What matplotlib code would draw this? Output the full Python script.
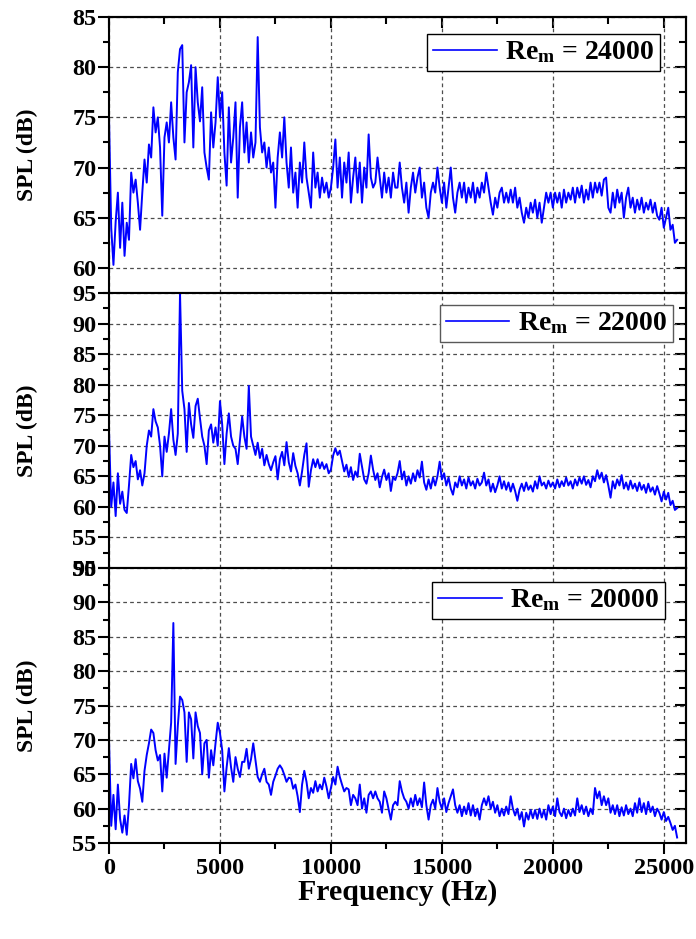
import numpy as np
import matplotlib
matplotlib.use("Agg")
import matplotlib.pyplot as plt
from matplotlib.ticker import MultipleLocator

plt.rcParams["font.family"] = ["Liberation Serif", "DejaVu Serif"]
plt.rcParams["font.weight"] = "bold"
plt.rcParams["mathtext.fontset"] = "custom"
plt.rcParams["mathtext.rm"] = "Liberation Serif:bold"
plt.rcParams["mathtext.it"] = "Liberation Serif:bold"
plt.rcParams["mathtext.bf"] = "Liberation Serif:bold"

# Frequency bins (Hz), 100 Hz resolution
freq_step = 100
n_bins = 257

# Sound pressure level spectra (dB), one value per 100 Hz bin
spl_24000 = [
    75.0, 64.0, 60.3, 64.6, 67.5, 62.0, 66.5, 61.2, 64.5, 62.8,
    69.5, 67.5, 68.8, 66.5, 63.8, 67.5, 70.8, 68.5, 72.3, 71.0,
    76.0, 73.5, 75.0, 72.0, 65.2, 73.0, 74.5, 72.5, 76.5, 73.0,
    70.8, 79.5, 81.8, 82.2, 72.5, 77.5, 78.5, 80.2, 72.0, 80.0,
    76.5, 74.6, 78.0, 71.5, 70.0, 68.8, 75.5, 72.0, 74.5, 79.0,
    75.0, 77.5, 71.5, 68.2, 76.0, 70.5, 73.0, 76.5, 67.0, 74.0,
    76.5, 71.5, 74.5, 70.5, 73.5, 71.0, 72.5, 83.0, 74.0, 71.5,
    72.5, 70.0, 72.0, 69.5, 70.5, 66.0, 71.0, 73.5, 71.0, 75.0,
    70.5, 68.0, 72.0, 67.5, 69.5, 66.0, 70.5, 68.5, 72.5, 69.0,
    67.5, 66.0, 71.5, 68.0, 69.5, 67.0, 69.0, 67.5, 68.5, 67.0,
    68.0, 70.0, 72.8, 68.0, 71.0, 67.0, 70.5, 68.5, 71.5, 66.5,
    69.0, 71.0, 67.5, 70.5, 66.5, 70.0, 68.0, 73.3, 69.0, 68.0,
    68.5, 71.0, 69.0, 67.0, 69.5, 67.5, 69.0, 67.0, 69.5, 68.0,
    68.0, 70.5, 68.0, 66.5, 68.5, 65.5, 68.0, 69.5, 67.5, 69.0,
    70.0, 67.0, 68.5, 66.0, 65.0, 67.5, 68.5, 67.5, 70.0, 68.0,
    66.5, 68.5, 66.0, 68.0, 70.0, 67.0, 65.5, 67.5, 68.5, 67.0,
    68.5, 66.5, 68.0, 67.0, 68.5, 66.5, 68.0, 67.0, 68.5, 67.5,
    69.5, 68.0, 66.5, 65.3, 67.0, 66.0, 67.5, 68.0, 66.5, 67.5,
    66.5, 67.8, 66.5, 68.0, 66.0, 67.0, 65.5, 64.5, 66.0, 65.0,
    66.5, 65.5, 66.8, 65.0, 66.5, 64.5, 66.0, 67.5, 66.5, 67.5,
    66.0, 67.5, 66.5, 67.5, 66.0, 67.8, 66.5, 67.5, 66.8, 68.0,
    66.5, 68.0, 67.0, 68.2, 66.5, 67.8, 66.8, 68.5, 67.0, 68.5,
    67.5, 68.5, 67.2, 68.8, 69.0, 66.0, 65.5, 67.5, 66.0, 67.8,
    66.5, 67.5, 65.0, 67.0, 68.0, 66.0, 67.0, 65.5, 66.8, 65.8,
    67.0, 65.5, 66.5, 65.8, 66.8, 65.5, 66.5, 65.2, 64.8, 66.0,
    64.0, 65.0, 66.0, 63.8, 64.3, 62.5, 62.8,
]

spl_22000 = [
    72.5, 60.0, 64.0, 58.5, 65.5, 60.5, 62.5, 59.5, 59.0, 63.5,
    68.5, 66.5, 67.5, 64.5, 66.0, 63.5, 65.5, 70.0, 72.5, 71.5,
    76.0, 74.0, 73.0, 70.0, 65.0, 71.5, 69.0, 72.0, 76.0, 71.0,
    68.5, 72.0, 95.0, 79.0, 76.0, 69.0, 77.0, 73.5, 71.3, 76.5,
    77.7, 74.5, 71.5, 70.0, 67.0, 72.5, 73.5, 70.5, 73.0, 70.0,
    77.3, 73.5, 67.0, 72.0, 75.3, 71.5, 70.0, 69.5, 67.0, 71.0,
    74.8, 71.5, 69.5, 79.8, 71.5, 70.0, 68.5, 70.5, 68.0, 69.5,
    66.8, 68.5, 67.0, 66.0, 67.3, 68.3, 64.5, 67.8, 69.0, 66.8,
    70.6, 67.3, 65.8, 68.8, 66.7, 65.5, 63.5, 65.8, 68.5, 70.4,
    63.3, 66.0, 67.8, 66.5, 67.8, 66.3, 67.3, 66.2, 67.0, 65.5,
    66.1, 68.4, 69.6, 68.5, 69.2, 67.5, 65.8, 66.9, 64.9, 66.5,
    64.4, 65.8, 64.9, 68.7, 66.6, 64.5, 63.8, 65.5, 68.4, 66.1,
    64.4, 65.5, 63.2, 64.9, 66.1, 64.4, 65.5, 62.6, 64.9, 64.4,
    65.5, 67.5, 64.5, 65.8, 63.5, 65.0, 63.8, 65.5, 64.2, 66.0,
    64.8, 67.4, 64.0, 62.8, 64.5, 63.0, 64.8, 63.5, 65.0, 67.4,
    64.5, 65.5, 63.5, 64.8, 63.0, 62.0, 64.0, 63.2, 65.0, 63.5,
    64.5, 63.0, 64.8, 63.5, 64.2, 63.0, 64.6, 63.5, 64.0, 65.6,
    63.5, 64.5, 62.5, 63.8, 62.4, 63.5, 65.0, 63.0, 64.2, 62.8,
    64.0, 62.5, 63.8, 62.6, 61.0, 62.8, 63.8, 62.6, 64.0, 62.8,
    63.5, 62.5, 64.2, 63.0, 65.0, 63.5, 64.0, 63.0, 64.3, 63.3,
    64.0, 63.0, 64.5, 63.2, 64.2, 63.4, 64.8, 63.5, 64.2, 63.0,
    64.5, 63.5, 64.8, 63.8, 65.0, 63.6, 64.4, 63.2, 65.0, 64.2,
    66.0, 64.6, 65.6, 64.0, 65.2, 63.5, 61.5, 64.2, 63.0, 64.5,
    63.5, 65.2, 63.0, 64.0, 62.8, 64.3, 63.0, 63.8, 62.6, 64.0,
    62.8, 63.6, 62.3, 63.8, 62.5, 63.2, 62.0, 63.4, 62.2, 60.9,
    62.5, 61.2, 62.3, 60.3, 61.0, 59.5, 59.8,
]

spl_20000 = [
    70.0, 57.5, 62.0, 57.0, 63.5, 58.5, 56.5, 59.0, 56.2, 60.5,
    66.5, 64.4, 67.2, 64.0, 62.9, 61.0, 65.5, 67.8, 69.5, 71.5,
    71.0, 68.5, 67.0, 67.8, 62.5, 68.0, 64.5, 68.5, 72.5, 87.0,
    66.5, 72.0, 76.3, 75.8, 74.0, 66.8, 74.0, 73.0, 67.3, 74.0,
    72.0, 71.0, 65.0, 69.5, 70.0, 64.5, 68.5, 66.3, 69.5, 72.5,
    71.0, 68.5, 62.5, 66.0, 68.8, 66.0, 63.9, 67.5, 65.8, 64.6,
    66.8, 66.8, 68.7, 65.8, 67.2, 69.5, 67.0, 64.6, 63.9, 65.0,
    65.8, 63.9, 63.5, 62.0, 63.9, 64.8, 65.8, 66.3, 65.8, 64.9,
    63.9, 64.5, 64.4, 62.9, 63.5, 61.8, 59.5, 63.5, 65.5, 63.9,
    61.5, 63.0, 62.3, 64.0, 62.5, 63.5, 62.8, 64.5, 63.2, 61.5,
    63.0, 64.6, 63.5, 66.1, 64.6, 63.5, 62.5, 63.0, 62.8, 60.5,
    62.0, 61.5, 60.5, 63.5, 60.0, 61.5, 59.4, 62.0, 62.5, 61.5,
    62.5, 61.5, 61.0, 59.4, 62.5, 61.5, 59.9, 58.4, 60.5, 61.0,
    60.5, 64.0, 62.5, 61.5, 61.0, 60.0, 61.5, 60.3, 62.0, 60.5,
    61.5, 60.2, 63.8, 60.5, 58.4, 60.5, 61.3, 60.0, 63.0, 61.0,
    60.0, 61.5, 59.5, 60.8, 61.8, 62.8, 60.5, 59.4, 60.5, 58.9,
    60.3, 59.2, 60.8, 59.0, 60.5, 58.9, 60.0, 58.4, 60.5, 61.5,
    60.5, 61.8, 60.0, 61.0, 59.4, 60.5, 58.9, 60.0, 59.0, 60.3,
    59.2, 61.8, 60.0, 59.0, 60.0, 58.4, 59.5, 57.4, 59.4, 58.4,
    59.8, 58.6, 59.8, 58.5, 60.0, 58.7, 59.8, 58.4, 60.5, 59.2,
    60.3, 58.9, 61.5, 59.5, 58.9, 60.0, 58.6, 59.8, 58.9, 60.0,
    59.0, 61.5, 59.5, 60.5, 59.2, 60.3, 58.9, 60.0, 59.2, 63.0,
    61.5, 62.5, 60.5, 61.8, 60.5, 61.5, 59.4, 60.5, 59.2, 60.5,
    58.9, 60.2, 59.0, 60.5, 59.2, 60.0, 58.9, 60.8, 59.4, 61.5,
    59.5, 60.8, 59.2, 61.0, 59.5, 60.3, 58.9, 60.0, 59.4, 58.4,
    59.5, 58.2, 58.8, 57.9, 56.9, 57.5, 55.8,
]

freq = np.arange(n_bins) * freq_step

panels = [
    ("24000", spl_24000, (57.5, 85), (0.955, 0.938), "black"),
    ("22000", spl_22000, (50, 95), (0.977, 0.956), "0.35"),
    ("20000", spl_20000, (55, 95), (0.9636, 0.949), "black"),
]

fig = plt.figure(figsize=(6.96, 9.39), dpi=100)
left, width = 109 / 696, 577 / 696
tops = [17, 293, 568]
bottoms = [293, 568, 843]

for i, (re, spl, ylim, anchor, edge) in enumerate(panels):
    y0 = 1 - bottoms[i] / 939
    h = (bottoms[i] - tops[i]) / 939
    ax = fig.add_axes([left, y0, width, h])
    ax.plot(freq, spl, color="#0000FF", lw=1.4,
            label=r"Re$_{\mathrm{m}}$ = " + re)
    ax.set_xlim(0, 26000)
    ax.set_ylim(*ylim)
    ax.xaxis.set_major_locator(MultipleLocator(5000))
    ax.xaxis.set_minor_locator(MultipleLocator(2500))
    ax.yaxis.set_major_locator(MultipleLocator(5))
    ax.yaxis.set_minor_locator(MultipleLocator(2.5))
    ax.grid(True, which="major", linestyle=(0, (3, 2.5)), color="0.3", lw=0.9)
    ax.set_axisbelow(True)
    for sp in ax.spines.values():
        sp.set_linewidth(1.5)

    ax.tick_params(axis="y", which="both", left=True, right=False,
                   direction="out", width=1.5, labelsize=17.5, pad=1)
    ax.tick_params(axis="y", which="major", length=8)
    ax.tick_params(axis="y", which="minor", length=4.5)

    last = i == len(panels) - 1
    ax.tick_params(axis="x", which="both", top=False, bottom=last,
                   labelbottom=last, direction="out", width=1.5,
                   labelsize=17.5, pad=3)
    ax.tick_params(axis="x", which="major", length=8)
    ax.tick_params(axis="x", which="minor", length=4.5)

    secy = ax.secondary_yaxis("right")
    secy.yaxis.set_major_locator(MultipleLocator(5))
    secy.yaxis.set_minor_locator(MultipleLocator(2.5))
    secy.tick_params(which="both", direction="in", width=1.5, labelright=False)
    secy.tick_params(which="major", length=8)
    secy.tick_params(which="minor", length=5)
    secy.spines["right"].set_linewidth(1.5)

    if i == 0:
        secx = ax.secondary_xaxis("top")
        secx.xaxis.set_major_locator(MultipleLocator(5000))
        secx.xaxis.set_minor_locator(MultipleLocator(2500))
        secx.tick_params(which="both", direction="in", width=1.5, labeltop=False)
        secx.tick_params(which="major", length=8)
        secx.tick_params(which="minor", length=5)
        secx.spines["top"].set_linewidth(1.5)

    ax.set_ylabel("SPL (dB)", fontsize=17, fontweight="bold", va="center")
    ax.yaxis.set_label_coords(-0.142, 0.5)

    leg = ax.legend(loc="upper right", bbox_to_anchor=anchor, borderaxespad=0,
                    fontsize=20, frameon=True, fancybox=False, framealpha=1,
                    handlelength=2.3, handletextpad=0.3, borderpad=0.2)
    leg.get_frame().set_edgecolor(edge)
    leg.get_frame().set_linewidth(1.0)
    for line in leg.get_lines():
        line.set_linewidth(1.2)

    if last:
        ax.set_xlabel("Frequency (Hz)", fontsize=21.5, fontweight="bold", va="center")
        ax.xaxis.set_label_coords(0.5, -0.18)

fig.savefig("out.png", dpi=100)
